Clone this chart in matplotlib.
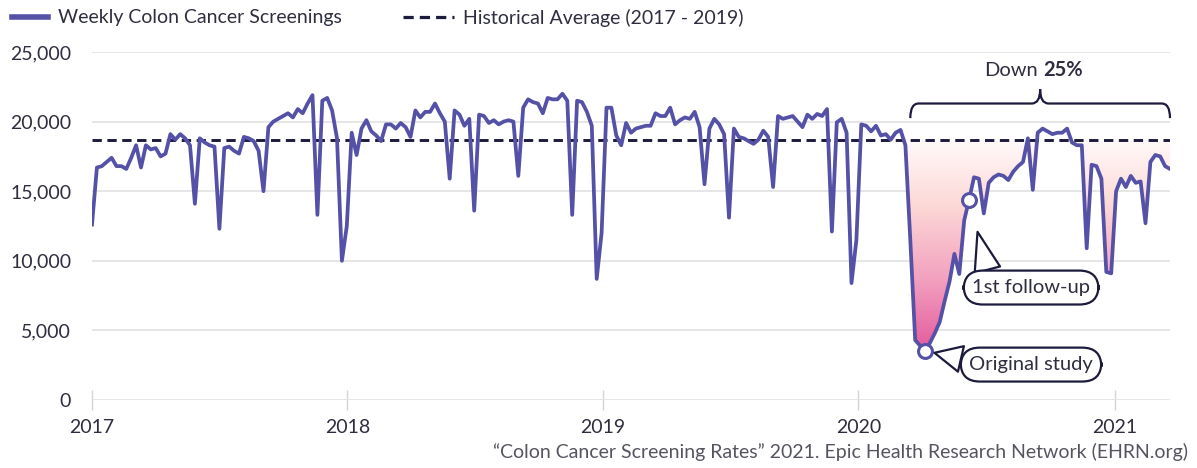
import matplotlib
matplotlib.use("Agg")
import matplotlib.pyplot as plt
import matplotlib.dates as mdates
import matplotlib.transforms as mtransforms
from matplotlib.path import Path
from matplotlib.patches import PathPatch
from matplotlib.lines import Line2D
from matplotlib.ticker import FuncFormatter, FixedLocator
from matplotlib.colors import LinearSegmentedColormap
import numpy as np
import pandas as pd

plt.rcParams["font.family"] = ["Lato", "DejaVu Sans"]

# weekly colon cancer screenings, first week starts 2017-01-01
screenings = [
    12600, 16700, 16800, 17100, 17400, 16800, 16800, 16600, 17400, 18300,
    16700, 18300, 18000, 18100, 17500, 17700, 19100, 18700, 19100, 18800,
    18300, 14100, 18800, 18500, 18300, 18200, 12300, 18100, 18200, 17900,
    17700, 18900, 18800, 18600, 17900, 15000, 19600, 20000, 20200, 20400,
    20600, 20300, 20900, 20600, 21300, 21900, 13300, 21500, 21700, 20800,
    18800, 10000, 12500, 19200, 17600, 19500, 20100, 19300, 19000, 18600,
    19800, 19800, 19500, 19900, 19600, 18900, 20800, 20300, 20700, 20700,
    21300, 20600, 20000, 15900, 20800, 20500, 19700, 20200, 13600, 20500,
    20400, 19900, 20100, 19800, 20000, 20100, 20000, 16100, 21000, 21600,
    21400, 21300, 20600, 21700, 21600, 21600, 22000, 21500, 13300, 21500,
    21400, 20700, 19700, 8700, 12000, 21000, 21000, 19000, 18300, 19900,
    19200, 19500, 19600, 19700, 19700, 20600, 20400, 20400, 21000, 19800,
    20100, 20300, 20200, 20700, 19600, 15500, 19500, 20200, 19800, 19100,
    13100, 19500, 18900, 18800, 18600, 18400, 18700, 19350, 18900, 15300,
    20400, 20200, 20300, 20400, 20000, 19600, 20500, 20200, 20550, 20400,
    20900, 12100, 19950, 20200, 19200, 8400, 11500, 19800, 19700, 19300,
    19700, 19000, 19100, 18700, 19200, 19400, 18300, 11500, 4300, 3900,
    3550, 4100, 4800, 5600, 7100, 8500, 10500, 9050, 12900, 14400,
    16000, 15900, 13400, 15600, 16000, 16200, 16100, 15800, 16400, 16800,
    17100, 18800, 15100, 19200, 19500, 19300, 19100, 19200, 19200, 19500,
    18500, 18300, 18300, 10900, 16900, 16800, 15900, 9200, 9100, 15000,
    15900, 15300, 16100, 15600, 15700, 12700, 17100, 17600, 17500, 16800,
    16600,
]
weeks = pd.date_range("2017-01-01", periods=len(screenings), freq="7D")
hist_avg = 18700
year_labels = ["2017", "2018", "2019", "2020", "2021"]
y_ticks = [0, 5000, 10000, 15000, 20000, 25000]
shortfall_start = 166   # first pandemic week below the average
study_week = 170        # "Original study"
followup_week = 179     # "1st follow-up"
down_label = "25%"

purple = "#5451a7"
navy = "#1c1b3d"
txt = "#2e2e40"

x = mdates.date2num(weeks)
y = np.array(screenings, dtype=float)

fig = plt.figure(figsize=(11.97, 4.68), dpi=100)
ax = fig.add_axes([92 / 1197, 1 - 400 / 468, 1078 / 1197, 348 / 468])

# gradient shading of the shortfall below the historical average
sl = slice(shortfall_start, None)
fill = ax.fill_between(x[sl], y[sl], hist_avg, where=y[sl] < hist_avg,
                       interpolate=True, facecolor="none", edgecolor="none")
clip = Path.make_compound_path(*fill.get_paths())
cmap = LinearSegmentedColormap.from_list(
    "shortfall", [(0, "#e2529a"), (0.35, "#f29fbe"), (0.7, "#fcd9d6"), (1, "#fffafa")])
grad = np.linspace(0, 1, 256).reshape(-1, 1)
img = ax.imshow(grad, cmap=cmap, aspect="auto", origin="lower",
                extent=[x[shortfall_start], x[-1], 3000, hist_avg], zorder=1)
img.set_clip_path(clip, ax.transData)

ax.axhline(hist_avg, color=navy, lw=2.1, ls=(0, (3.2, 1.9)), zorder=2)
ax.plot(x, y, color=purple, lw=2.7, zorder=3, solid_joinstyle="round")

for w in (study_week, followup_week):
    ax.plot(x[w], y[w], "o", ms=10, mfc="white", mec=purple, mew=2.2, zorder=4)

bubble = dict(boxstyle="round,pad=0.42,rounding_size=0.95", fc="white", ec=navy, lw=1.6)
ax.annotate("Original study", xy=(x[study_week], y[study_week]),
            xytext=(106, -14), textcoords="offset pixels", ha="center", va="center",
            fontsize=14.5, color=txt, bbox=bubble, zorder=5,
            arrowprops=dict(arrowstyle="wedge,tail_width=1.3,shrink_factor=0.5",
                            fc="white", ec=navy, lw=1.6, relpos=(0.0, 0.72),
                            shrinkA=0, shrinkB=7))
ax.annotate("1st follow-up", xy=(x[followup_week], y[followup_week]),
            xytext=(62, -88), textcoords="offset pixels", ha="center", va="center",
            fontsize=14.5, color=txt, bbox=bubble, zorder=5,
            arrowprops=dict(arrowstyle="wedge,tail_width=1.3,shrink_factor=0.5",
                            fc="white", ec=navy, lw=1.6, relpos=(0.15, 1.0),
                            shrinkA=0, shrinkB=24))

# curly brace over the pandemic period
trans = mtransforms.blended_transform_factory(ax.transData, ax.transAxes)
L, R = x[shortfall_start + 1], x[-1]
M = (L + R) / 2
r = 12
yb, yh, yc = 0.81, 0.852, 0.893
verts = [(L, yb), (L, yh), (L + r, yh), (M - r, yh), (M, yh), (M, yc),
         (M, yh), (M + r, yh), (R - r, yh), (R, yh), (R, yb)]
codes = [Path.MOVETO, Path.CURVE3, Path.CURVE3, Path.LINETO, Path.CURVE3, Path.CURVE3,
         Path.CURVE3, Path.CURVE3, Path.LINETO, Path.CURVE3, Path.CURVE3]
ax.add_patch(PathPatch(Path(verts, codes), fc="none", ec=navy, lw=1.6,
                       transform=trans, clip_on=False))
ax.annotate("Down", xy=(M, 0.948), xycoords=trans, xytext=(-2, 0),
            textcoords="offset pixels", ha="right", va="center", fontsize=14.5, color=txt)
ax.annotate(down_label, xy=(M, 0.948), xycoords=trans, xytext=(3, 0),
            textcoords="offset pixels", ha="left", va="center", fontsize=14.5,
            fontweight="bold", color=txt)

# axes styling
ax.set_xlim(x[0], x[-1])
ax.set_ylim(0, 25000)
ax.yaxis.set_major_locator(FixedLocator(y_ticks))
ax.yaxis.set_major_formatter(FuncFormatter(lambda v, _: f"{v:,.0f}"))
ax.set_xticks(mdates.date2num(pd.to_datetime([f"{yr}-01-01" for yr in year_labels])))
ax.set_xticklabels(year_labels)
ax.tick_params(axis="y", length=0, pad=15, labelsize=14, labelcolor=txt)
ax.tick_params(axis="x", direction="inout", length=14, width=1, color="#d4d4d4",
               pad=7, labelsize=14, labelcolor=txt)
ax.yaxis.grid(True, color="#e2e2e2", lw=1.2)
ax.set_axisbelow(True)
for s in ax.spines.values():
    s.set_visible(False)

leg_kw = dict(loc="center left", frameon=False, fontsize=14, labelcolor=txt,
              handletextpad=0.5, borderpad=0, borderaxespad=0)
fig.legend([Line2D([], [], color=purple, lw=4)], ["Weekly Colon Cancer Screenings"],
           bbox_to_anchor=(12 / 1197, 1 - 18 / 468), handlelength=1.85, **leg_kw)
fig.legend([Line2D([], [], color=navy, lw=2.3, ls=(0, (3.2, 1.9)))],
           ["Historical Average (2017 - 2019)"],
           bbox_to_anchor=(403 / 1197, 1 - 18 / 468), handlelength=2.6, **leg_kw)

fig.text(1188 / 1197, 1 - 452 / 468,
         "\u201cColon Cancer Screening Rates\u201d 2021. Epic Health Research Network (EHRN.org)",
         ha="right", va="center", fontsize=14, color="#555560")

fig.savefig("out.png", dpi=100)
